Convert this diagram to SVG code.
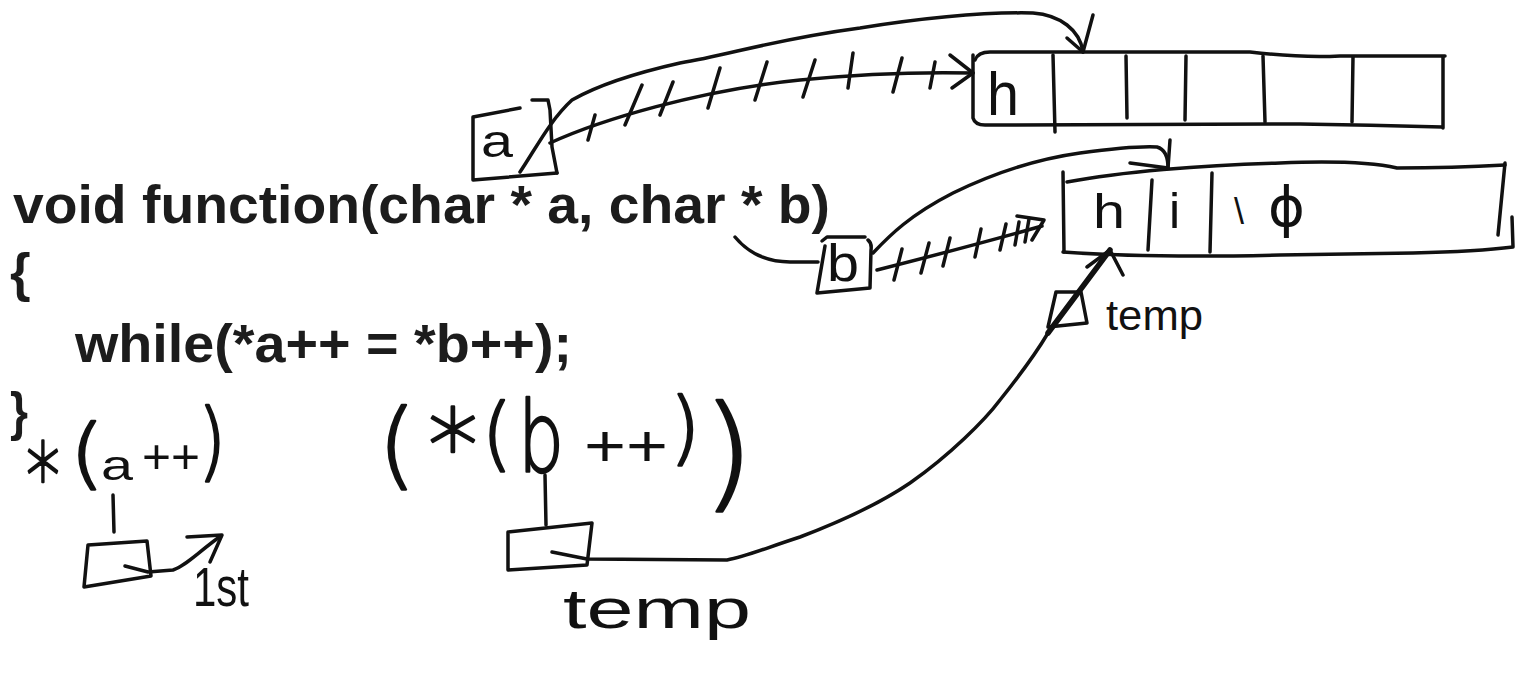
<svg xmlns="http://www.w3.org/2000/svg" width="1529" height="682" viewBox="0 0 1529 682">
<style>
.ink{fill:none;stroke:#111;stroke-width:3.5;stroke-linecap:round;stroke-linejoin:round}
.thick{stroke-width:5.5}
.code{font-family:"Liberation Sans",Arial,sans-serif;font-weight:bold;fill:#1c1c1c}
.hand{font-family:"Liberation Sans",Arial,sans-serif;fill:#111}
.thin{font-family:"DejaVu Sans","Liberation Sans",sans-serif;font-weight:200;fill:#111;stroke:#111;stroke-width:2.4;stroke-linejoin:round}
</style>
<rect width="1529" height="682" fill="#ffffff"/>

<g id="code">
  <text class="code" x="13" y="223" font-size="53" textLength="817" lengthAdjust="spacingAndGlyphs">void function(char * a, char * b)</text>
  <text class="code" x="10" y="291" font-size="53">{</text>
  <text class="code" x="75" y="362" font-size="54" textLength="497" lengthAdjust="spacingAndGlyphs">while(*a++ = *b++);</text>
  <text class="code" x="10" y="430" font-size="53" textLength="18" lengthAdjust="spacingAndGlyphs">}</text>
</g>

<g id="array-a">
  <path class="ink" d="M975,60 Q978,52 990,52 L1250,52 Q1300,58 1340,56 L1445,56"/>
  <path class="ink" d="M973,55 L973,118 Q975,125 985,125 L1300,124 Q1370,125 1442,127"/>
  <path class="ink" d="M1443,57 L1443,128"/>
  <path class="ink" d="M1053,55 L1055,132 M1126,56 L1127,118 M1186,56 L1185,120 M1263,56 L1265,122 M1353,57 L1352,122"/>
  <text class="hand" x="987" y="115" font-size="62" textLength="32" lengthAdjust="spacingAndGlyphs">h</text>
</g>

<g id="array-b">
  <path class="ink" d="M1067,182 C1120,172 1200,165 1280,163 C1330,161 1370,162 1397,168 C1430,168 1470,167 1505,165"/>
  <path class="ink" d="M1063,172 L1064,252"/>
  <path class="ink" d="M1505,163 L1498,235"/>
  <path class="ink" d="M1063,252 C1120,256 1200,257 1280,255 L1413,253 C1460,252 1490,250 1513,247 L1512,217"/>
  <path class="ink" d="M1152,180 L1148,250 M1212,173 L1210,252"/>
  <text class="hand" x="1093" y="228" font-size="48" textLength="32" lengthAdjust="spacingAndGlyphs">h</text>
  <text class="hand" x="1169" y="228" font-size="50">i</text>
  <text class="hand" x="1234" y="224" font-size="36">\</text>
  <text class="hand" x="1268" y="226" font-size="56" style="font-family:'DejaVu Sans',sans-serif">ϕ</text>
</g>

<g id="ptr-a">
  <path class="ink" d="M520,108 L473,117 L473,180 L557,173"/>
  <path class="ink" d="M532,100 L548,100 L550,110 L552,147 L557,173"/>
  <text class="hand" x="481" y="157" font-size="46" textLength="32" lengthAdjust="spacingAndGlyphs">a</text>
</g>

<g id="ptr-b">
  <path class="ink" d="M822,241 L827,237 L865,237"/>
  <path class="ink" d="M825,246 L817,293 L870,288 L871,250 Q872,243 868,240"/>
  <text class="hand" x="827" y="281" font-size="52" textLength="32" lengthAdjust="spacingAndGlyphs">b</text>
</g>

<g id="temp-small">
  <path class="ink" d="M1056,292 L1081,292 L1087,323 L1048,327 Z"/>
  <text class="hand" x="1106" y="330" font-size="42" textLength="97" lengthAdjust="spacingAndGlyphs">temp</text>
</g>

<g id="expr-a">
  <text class="thin" x="26" y="508" font-size="90" textLength="34" lengthAdjust="spacingAndGlyphs">*</text>
  <text class="thin" x="70" y="479" font-size="77" textLength="34" lengthAdjust="spacingAndGlyphs">(</text>
  <text class="hand" x="101" y="480" font-size="42" textLength="32" lengthAdjust="spacingAndGlyphs">a</text>
  <text class="hand" x="142" y="473" font-size="48" textLength="58" lengthAdjust="spacingAndGlyphs">++</text>
  <text class="thin" x="198" y="470" font-size="86" textLength="28" lengthAdjust="spacingAndGlyphs">)</text>
  <path class="ink" d="M88,545 L147,541 L151,576 L84,587 Z"/>
  <text class="hand" x="193" y="606" font-size="56" textLength="56" lengthAdjust="spacingAndGlyphs">1st</text>
</g>

<g id="expr-b">
  <text class="thin" x="378" y="477" font-size="95" textLength="38" lengthAdjust="spacingAndGlyphs">(</text>
  <text class="thin" x="428" y="481" font-size="100" textLength="50" lengthAdjust="spacingAndGlyphs">*</text>
  <text class="thin" x="482" y="461" font-size="80" textLength="30" lengthAdjust="spacingAndGlyphs">(</text>
  <text class="thin" x="518" y="472" font-size="98" textLength="46" lengthAdjust="spacingAndGlyphs">b</text>
  <text class="hand" x="584" y="466" font-size="60" textLength="84" lengthAdjust="spacingAndGlyphs">++</text>
  <text class="thin" x="670" y="455" font-size="80" textLength="30" lengthAdjust="spacingAndGlyphs">)</text>
  <text class="thin" x="702" y="495" font-size="125" textLength="52" lengthAdjust="spacingAndGlyphs">)</text>
  <path class="ink" d="M508,532 L592,523 L587,565 L508,570 Z"/>
  <text class="hand" x="563" y="628" font-size="56" textLength="188" lengthAdjust="spacingAndGlyphs">temp</text>
</g>

<g id="connectors">
  <path class="ink" d="M520,172 C535,150 550,120 572,100 C600,84 640,72 680,63 C730,55 770,40 860,28 C930,17 990,12 1033,13 C1060,15 1080,30 1083,52"/>
  <path class="ink" d="M1067,38 L1083,52 L1093,15"/>
  <path class="ink" d="M550,143 C600,120 700,90 800,80 C880,72 930,72 973,73"/>
  <path class="ink" d="M950,55 L973,73 L952,88"/>
  <path class="ink" d="M588,140 L595,115 M625,125 L642,85 M660,115 L673,82 M708,108 L720,68 M755,100 L767,62 M803,97 L815,60 M848,88 L853,53 M893,92 L902,58 M930,88 L935,62"/>
  <path class="ink" d="M735,237 C750,255 770,262 790,262 L818,262"/>
  <path class="ink" d="M873,253 C890,235 910,215 953,193 C990,175 1030,160 1080,153 C1110,149 1140,146 1157,147 Q1168,150 1168,168"/>
  <path class="ink" d="M1130,163 L1168,168 L1170,140"/>
  <path class="ink" d="M877,270 C940,254 1000,238 1042,226"/>
  <path class="ink" d="M1017,216 L1044,220 L1032,240"/>
  <path class="ink" d="M894,280 L902,249 M921,273 L929,243 M943,266 L950,238 M975,257 L981,229 M1000,250 L1006,224 M1015,245 L1019,222 M1025,242 L1029,219"/>
  <path class="ink" d="M113,495 L114,532"/>
  <path class="ink" d="M125,566 L148,572 L173,570 C185,566 195,555 218,538"/>
  <path class="ink" d="M187,537 L222,535 L210,562"/>
  <path class="ink" d="M545,475 L546,525"/>
  <path class="ink" d="M552,552 L587,559 L727,560 C745,557 760,550 800,537 C850,518 885,500 910,483 C950,455 985,420 1000,400 C1020,375 1035,355 1048,333"/>
  <path class="ink thick" d="M1048,333 L1110,250"/>
  <path class="ink" d="M1087,267 L1110,250 L1123,275"/>
</g>
</svg>
